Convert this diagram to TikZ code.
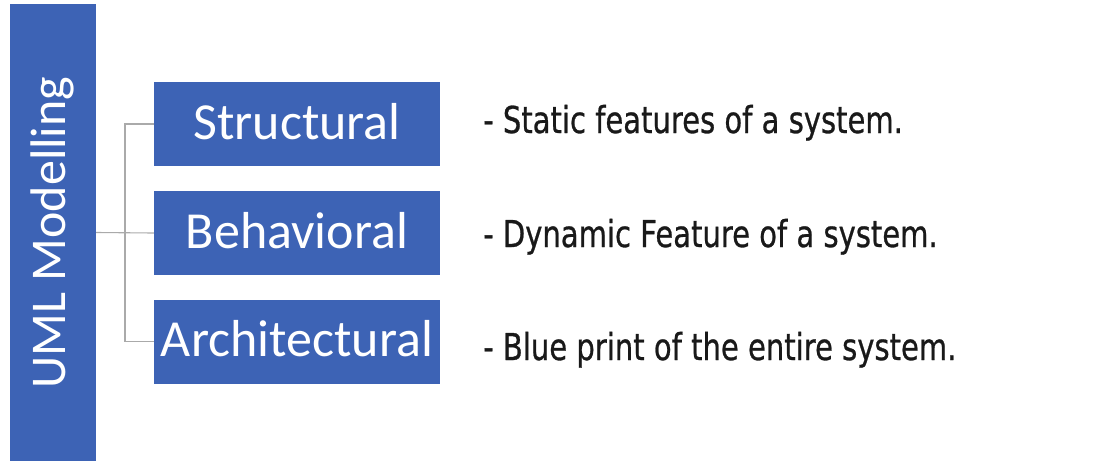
\documentclass[tikz,border=0pt]{standalone}
\usepackage{fontspec}
\setmainfont{Carlito}
\newfontfamily\notefont[FakeBold=0.8]{DejaVu Sans}
\definecolor{umlblue}{RGB}{61,99,181}
\definecolor{linkgray}{RGB}{170,170,170}
\definecolor{notetext}{RGB}{25,25,25}
\tikzset{
  kindbox/.style={fill=umlblue, draw=none, inner sep=0pt, minimum width=286pt,
    minimum height=84pt, text=white, font=\fontsize{52}{52}\selectfont,
    text height=38pt, text depth=8pt},
  link/.style={draw=linkgray, line width=1.1pt},
  note/.style={anchor=base west, inner sep=0pt, text=notetext,
    font=\notefont\fontsize{37}{37}\selectfont}
}
\newcommand{\squeeze}[1]{\scalebox{0.785}[1]{#1}}
\begin{document}
\begin{tikzpicture}[x=1pt, y=-1pt]
  \useasboundingbox (0,0) rectangle (1105,461);
  % vertical title bar
  \node[fill=umlblue, inner sep=0pt, minimum width=86pt, minimum height=457pt] (bar) at (53,232.5) {};
  \node[rotate=90, anchor=base, text=white, inner sep=0pt,
        font=\fontsize{50}{50}\selectfont] (title) at (65,232.5) {UML Modelling};
  % the three kinds of diagram
  \node[kindbox] (str) at (297,124) {Structural};
  \node[kindbox] (beh) at (297,233) {Behavioral};
  \node[kindbox] (arc) at (297,341.5) {Architectural};
  % tree connectors
  \coordinate (j) at (125,233);
  \draw[link] (bar.east) -- (beh.west);
  \draw[link] (str.west) -- (str.west -| j) -- (arc.west -| j) -- (arc.west);
  % descriptions
  \node[note] (d1) at (483,133) {\squeeze{- Static features of a system.}};
  \node[note] (d2) at (483,247) {\squeeze{- Dynamic Feature of a system.}};
  \node[note] (d3) at (483,360) {\squeeze{- Blue print of the entire system.}};
\end{tikzpicture}
\end{document}
